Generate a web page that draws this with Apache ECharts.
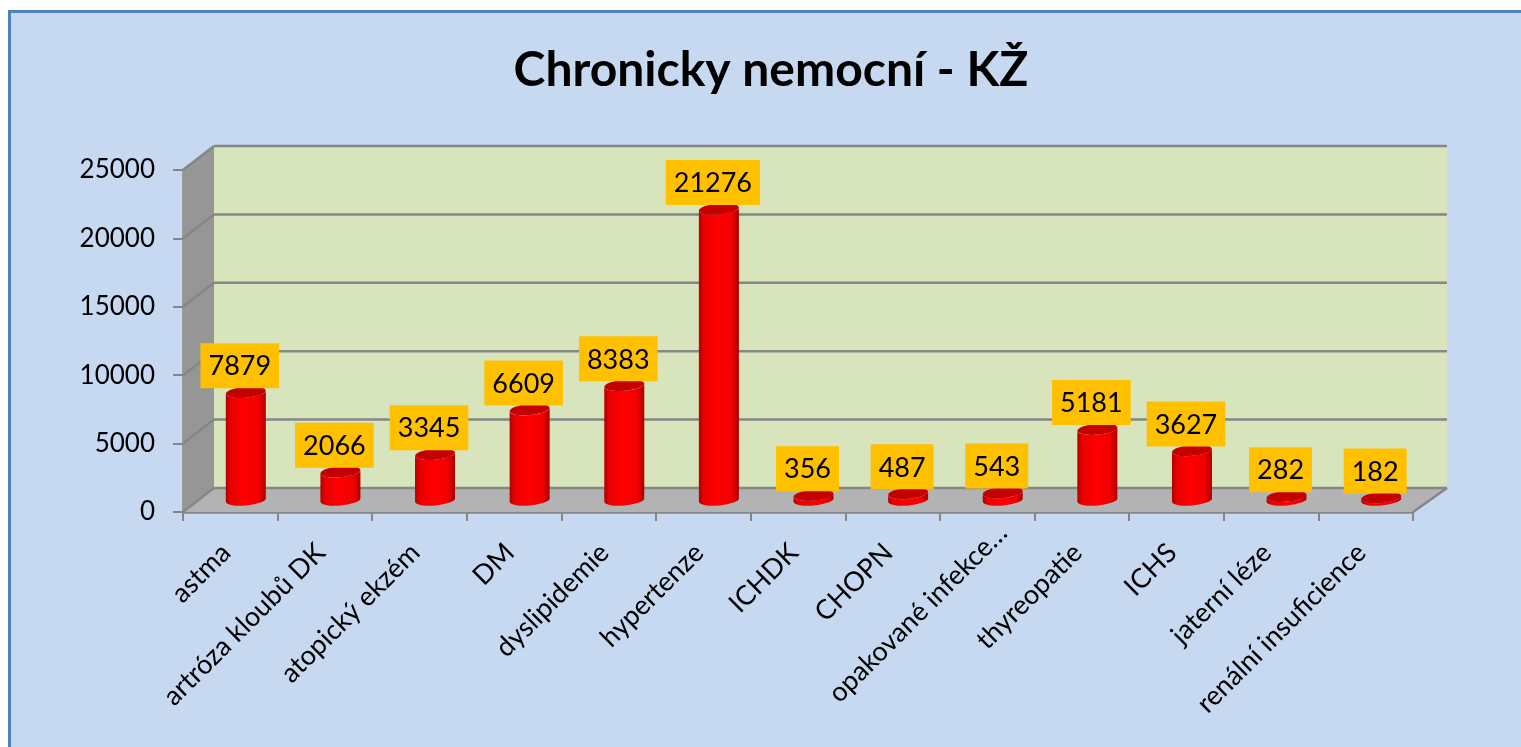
<!DOCTYPE html>
<html>
<head>
<meta charset="utf-8">
<title>Chronicky nemocní - KŽ</title>
<style>
  html, body { margin: 0; padding: 0; background: #fff; }
  #chart { width: 1521px; height: 747px; }
</style>
<script src="https://cdn.jsdelivr.net/npm/echarts@6/dist/echarts.min.js"></script>
</head>
<body>
<div id="chart"></div>
<script>
const categories = ['astma', 'artróza kloubů DK', 'atopický ekzém', 'DM', 'dyslipidemie', 'hypertenze', 'ICHDK',
  'CHOPN', 'opakované infekce…', 'thyreopatie', 'ICHS', 'jaterní léze', 'renální insuficience'];
const patients = [7879, 2066, 3345, 6609, 8383, 21276, 356, 487, 543, 5181, 3627, 282, 182];
const yTicks = [0, 5000, 10000, 15000, 20000, 25000];

const FONT = 'Lato, "Open Sans", sans-serif';
// how far the back wall sits from the front axes
const DEPTH_X = 31;
const DEPTH_X_RIGHT = 34;
const DEPTH_Y = -24;
const GRID_COLOR = '#868686';

function poly(points, fill) {
  return { type: 'polygon', shape: { points }, style: { fill, stroke: null } };
}

function line(x1, y1, x2, y2) {
  return { type: 'line', shape: { x1, y1, x2, y2 }, style: { stroke: GRID_COLOR, lineWidth: 2.5 } };
}

// back wall, side wall, floor and gridlines, all hung off the cartesian grid
function renderWalls(params, api) {
  const { x, width } = params.coordSys;
  const bottom = api.coord([0, 0])[1];
  const top = api.coord([0, 25000])[1];
  const right = x + width;
  const backRight = right + DEPTH_X_RIGHT;
  const children = [
    poly([[x + DEPTH_X, top + DEPTH_Y], [backRight, top + DEPTH_Y], [backRight, bottom + DEPTH_Y], [x + DEPTH_X, bottom + DEPTH_Y]], '#d8e4bc'),
    poly([[x, top], [x + DEPTH_X, top + DEPTH_Y], [x + DEPTH_X, bottom + DEPTH_Y], [x, bottom]], '#969696'),
    poly([[x, bottom], [x + DEPTH_X, bottom + DEPTH_Y], [backRight, bottom + DEPTH_Y], [right, bottom]], '#b3b3b3'),
  ];
  yTicks.forEach((tick) => {
    const y = api.coord([0, tick])[1];
    children.push(line(x, y, x + DEPTH_X, y + DEPTH_Y));
    children.push(line(x + DEPTH_X, y + DEPTH_Y, backRight, y + DEPTH_Y));
  });
  children.push(line(right, bottom, backRight, bottom + DEPTH_Y));
  return { type: 'group', children };
}

// one red cylinder plus its orange value box
function renderCylinder(params, api) {
  const idx = api.value(0);
  const val = api.value(1);
  const rx = 20;
  const ry = 5.5;
  const tilt = 1.8;
  const base = api.coord([idx, 0]);
  const cx = base[0] + DEPTH_X / 2;
  const baseY = base[1] + DEPTH_Y / 2;
  const topY = api.coord([idx, val])[1] + DEPTH_Y / 2;
  const body = `M${cx - rx} ${topY + tilt} L${cx - rx} ${baseY + tilt}`
    + ` A${rx} ${ry} -5 0 0 ${cx + rx} ${baseY - tilt}`
    + ` L${cx + rx} ${topY - tilt}`
    + ` A${rx} ${ry} -5 0 1 ${cx - rx} ${topY + tilt} Z`;
  return {
    type: 'group',
    children: [
      {
        type: 'path',
        shape: { pathData: body },
        style: {
          fill: new echarts.graphic.LinearGradient(0, 0, 1, 0, [
            { offset: 0, color: '#b00000' },
            { offset: 0.12, color: '#e80000' },
            { offset: 0.45, color: '#ff0000' },
            { offset: 0.82, color: '#f20000' },
            { offset: 1, color: '#a80000' },
          ]),
        },
      },
      {
        type: 'ellipse',
        x: cx,
        y: topY,
        rotation: 5 * Math.PI / 180,
        shape: { cx: 0, cy: 0, rx, ry },
        style: { fill: '#c40000' },
      },
      {
        type: 'text',
        x: cx - 6,
        y: topY - 4,
        style: {
          text: String(val),
          font: `27px ${FONT}`,
          fill: '#000',
          align: 'center',
          verticalAlign: 'bottom',
          backgroundColor: '#ffc000',
          padding: [10, 8, 8, 8],
        },
      },
    ],
  };
}

// the truncated label sits further along its slant than the others
const xAxisData = categories.map((name) => (name.endsWith('…')
  ? { value: name, textStyle: { padding: [0, -22, 0, 0] } }
  : name));

const chart = echarts.init(document.getElementById('chart'), null, { renderer: 'canvas' });
chart.setOption({
  animation: false,
  backgroundColor: '#fff',
  title: {
    text: 'Chronicky nemocní - KŽ',
    left: 766,
    top: 42,
    textAlign: 'center',
    textStyle: { fontFamily: FONT, fontWeight: 'bold', fontSize: 48, color: '#000' },
  },
  graphic: [{
    type: 'rect',
    z: -10,
    shape: { x: 9.5, y: 11.5, width: 1530, height: 760 },
    style: { fill: '#c6d9f1', stroke: '#4f81bd', lineWidth: 3 },
  }],
  grid: { left: 183, top: 170, width: 1230, height: 342 },
  xAxis: {
    type: 'category',
    data: xAxisData,
    axisLine: { lineStyle: { color: GRID_COLOR, width: 2.5 } },
    axisTick: { show: true, alignWithLabel: false, length: 9, lineStyle: { color: GRID_COLOR, width: 2 } },
    axisLabel: { interval: 0, rotate: 45, margin: 32, padding: [0, 6, 0, 0], fontFamily: FONT, fontSize: 27, color: '#000' },
    splitLine: { show: false },
  },
  yAxis: {
    type: 'value',
    min: 0,
    max: 25000,
    interval: 5000,
    axisLine: { show: true, lineStyle: { color: GRID_COLOR, width: 2.5 } },
    axisTick: { show: true, length: 10, lineStyle: { color: GRID_COLOR, width: 2 } },
    axisLabel: { margin: 28, padding: [3, 0, 0, 0], fontFamily: FONT, fontSize: 26, color: '#000', formatter: (val) => String(val) },
    splitLine: { show: false },
  },
  series: [
    {
      type: 'custom',
      z: 1,
      silent: true,
      renderItem: renderWalls,
      data: [[0, 0]],
      clip: false,
    },
    {
      type: 'custom',
      z: 3,
      name: 'Chronicky nemocní',
      renderItem: renderCylinder,
      encode: { x: 0, y: 1 },
      data: patients.map((val, idx) => [idx, val]),
      clip: false,
    },
  ],
});
</script>
</body>
</html>
